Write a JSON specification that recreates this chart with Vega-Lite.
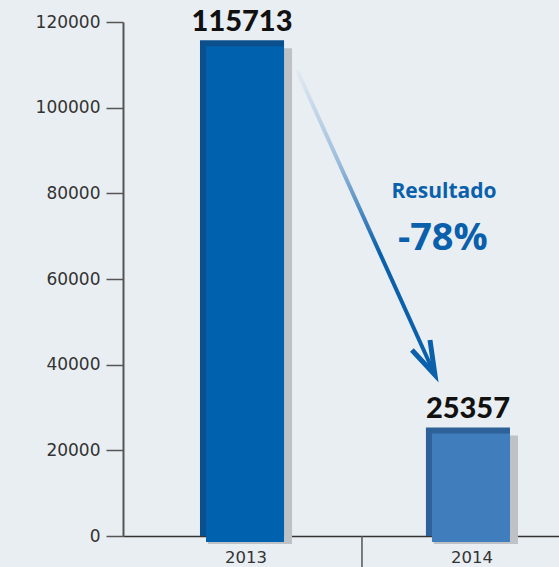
{
  "$schema": "https://vega.github.io/schema/vega-lite/v6.json",
  "autosize": {"type": "none"},
  "padding": {"left": 123, "top": 22, "right": 0, "bottom": 31},
  "width": 436,
  "height": 514,
  "background": "#e9eef2",
  "config": {"view": {"stroke": null}},
  "datasets": {
    "bars": [
      {"year": "2013", "value": 115713},
      {"year": "2014", "value": 25357}
    ],
    "shaft": [
      {"v": 0.2434, "val": 108794, "o": 0},
      {"v": 0.854, "val": 37588, "o": 1}
    ],
    "head": [
      {"v": 0.752, "val": 43424, "o": 0},
      {"v": 0.854, "val": 37588, "o": 1},
      {"v": 0.832, "val": 45759, "o": 2}
    ],
    "sep": [{"v": 0.531, "top": 0, "bottom": -8000}],
    "note1": [{"v": 0.894, "val": 80300, "label": "Resultado"}],
    "note2": [{"v": 0.889, "val": 69300, "label": "-78%"}]
  },
  "resolve": {"scale": {"x": "independent"}},
  "layer": [
    {
      "data": {"name": "bars"},
      "resolve": {"scale": {"color": "independent"}},
      "encoding": {
        "x": {
          "field": "year",
          "type": "nominal",
          "scale": {"domain": ["2013", "2014"], "paddingInner": 0.628, "paddingOuter": 0.2788, "align": 0.611},
          "axis": {
            "title": null,
            "labelAngle": 0,
            "ticks": false,
            "tickSize": 0,
            "domainColor": "#333",
            "domainWidth": 1.5,
            "labelFont": "DejaVu Sans",
            "labelFontSize": 16.5,
            "labelColor": "#333",
            "labelBaseline": "alphabetic",
            "labelPadding": 26,
            "labelOffset": 4
          }
        },
        "y": {
          "field": "value",
          "type": "quantitative",
          "scale": {"domain": [0, 120000], "nice": false, "zero": true},
          "axis": {
            "title": null,
            "values": [0, 20000, 40000, 60000, 80000, 100000, 120000],
            "format": "d",
            "grid": false,
            "domainColor": "#555",
            "domainWidth": 2,
            "tickColor": "#555",
            "tickWidth": 1.5,
            "tickSize": 17,
            "labelFont": "DejaVu Sans",
            "labelFontSize": 17,
            "labelColor": "#333",
            "labelPadding": 6
          }
        }
      },
      "layer": [
        {
          "mark": {"type": "bar", "color": "#bec2c6", "xOffset": 8, "yOffset": 8, "y2Offset": 8}
        },
        {
          "mark": {"type": "bar"},
          "encoding": {
            "color": {"field": "year", "type": "nominal", "legend": null,
              "scale": {"domain": ["2013", "2014"], "range": ["#0b4f8d", "#2f6199"]}}
          }
        },
        {
          "mark": {"type": "bar", "width": 78, "xOffset": 3, "yOffset": 6},
          "encoding": {
            "color": {"field": "year", "type": "nominal", "legend": null,
              "scale": {"domain": ["2013", "2014"], "range": ["#0062ae", "#3f7dbd"]}}
          }
        },
        {
          "mark": {"type": "text", "baseline": "alphabetic", "dy": -9, "font": "Lato", "fontWeight": 900, "fontSize": 29, "color": "#111"},
          "encoding": {"text": {"field": "value", "type": "quantitative", "format": "d"}}
        }
      ]
    },
    {
      "encoding": {},
      "layer": [
        {
          "data": {"name": "sep"},
          "mark": {"type": "rule", "color": "#555", "strokeWidth": 1.5},
          "encoding": {
            "x": {"field": "v", "type": "quantitative", "scale": {"domain": [-0.5267, 1.403], "nice": false, "zero": false}, "axis": null},
            "y": {"field": "top", "type": "quantitative", "scale": {"domain": [0, 120000], "nice": false}},
            "y2": {"field": "bottom"}
          }
        },
        {
          "data": {"name": "shaft"},
          "mark": {"type": "line", "strokeWidth": 4, "strokeCap": "butt",
            "stroke": {"gradient": "linear", "x1": 0, "y1": 0, "x2": 0, "y2": 1,
              "stops": [
                {"offset": 0, "color": "#e3ebf3"},
                {"offset": 0.3, "color": "#9dbddc"},
                {"offset": 0.6, "color": "#0a60ab"},
                {"offset": 1, "color": "#0a60ab"}
              ]}},
          "encoding": {
            "x": {"field": "v", "type": "quantitative", "scale": {"domain": [-0.5267, 1.403], "nice": false, "zero": false}, "axis": null},
            "y": {"field": "val", "type": "quantitative", "scale": {"domain": [0, 120000], "nice": false}},
            "order": {"field": "o"}
          }
        },
        {
          "data": {"name": "head"},
          "mark": {"type": "line", "strokeWidth": 5, "strokeCap": "butt", "strokeJoin": "miter", "color": "#0a60ab"},
          "encoding": {
            "x": {"field": "v", "type": "quantitative", "scale": {"domain": [-0.5267, 1.403], "nice": false, "zero": false}, "axis": null},
            "y": {"field": "val", "type": "quantitative", "scale": {"domain": [0, 120000], "nice": false}},
            "order": {"field": "o"}
          }
        },
        {
          "data": {"name": "note1"},
          "mark": {"type": "text", "font": "Open Sans", "fontWeight": "bold", "fontSize": 21, "color": "#0a60ab", "baseline": "middle"},
          "encoding": {
            "x": {"field": "v", "type": "quantitative", "scale": {"domain": [-0.5267, 1.403], "nice": false, "zero": false}, "axis": null},
            "y": {"field": "val", "type": "quantitative", "scale": {"domain": [0, 120000], "nice": false}},
            "text": {"field": "label"}
          }
        },
        {
          "data": {"name": "note2"},
          "mark": {"type": "text", "font": "Open Sans", "fontWeight": "bold", "fontSize": 38, "color": "#0a60ab", "baseline": "middle"},
          "encoding": {
            "x": {"field": "v", "type": "quantitative", "scale": {"domain": [-0.5267, 1.403], "nice": false, "zero": false}, "axis": null},
            "y": {"field": "val", "type": "quantitative", "scale": {"domain": [0, 120000], "nice": false}},
            "text": {"field": "label"}
          }
        }
      ]
    }
  ]
}
